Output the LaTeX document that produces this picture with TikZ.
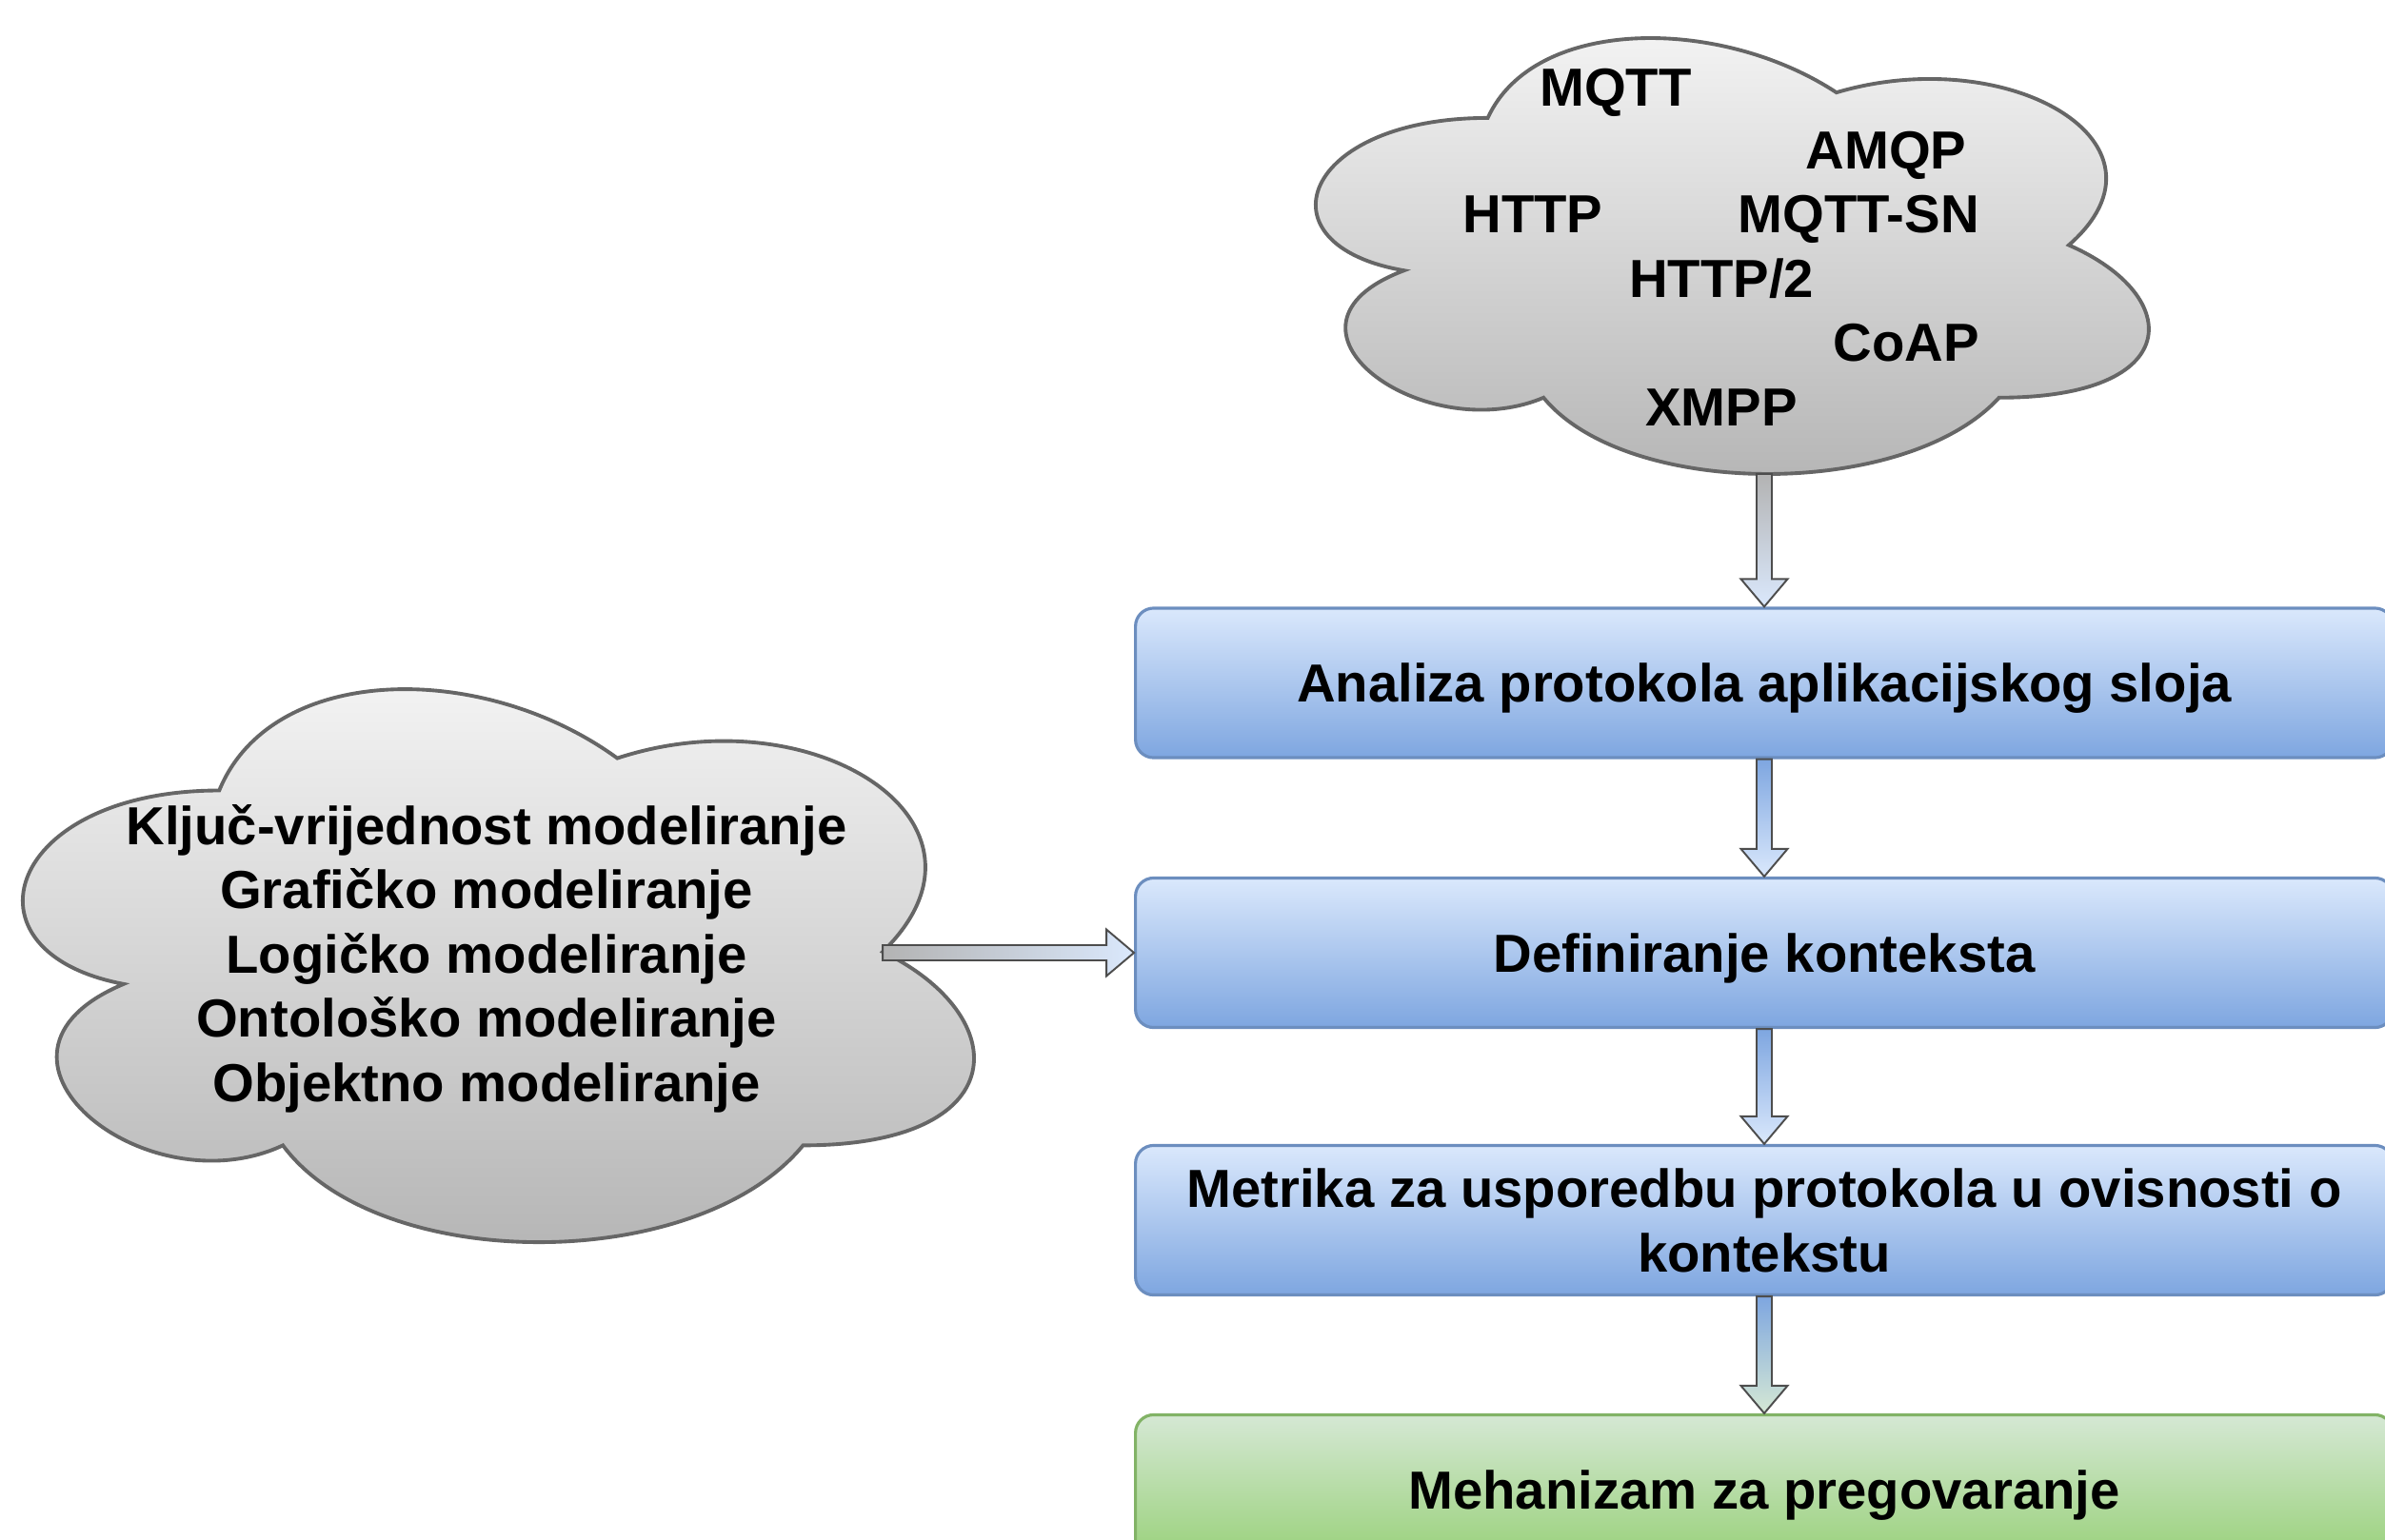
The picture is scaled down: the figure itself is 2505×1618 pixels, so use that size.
\documentclass[tikz,border=0pt]{standalone}
\usepackage{fontspec}
\setmainfont{Liberation Sans}
\usetikzlibrary{calc}
\definecolor{bluetop}{HTML}{DAE8FC}
\definecolor{bluebot}{HTML}{7EA6E0}
\definecolor{blueline}{HTML}{6C8EBF}
\definecolor{greentop}{HTML}{D5E8D4}
\definecolor{greenbot}{HTML}{97D077}
\definecolor{greenline}{HTML}{82B366}
\definecolor{cloudtop}{HTML}{F5F5F5}
\definecolor{cloudbot}{HTML}{B3B3B3}
\definecolor{cloudline}{HTML}{666666}
\definecolor{arrowline}{HTML}{4D4D4D}
\tikzset{
  lbl/.style={font=\fontsize{16}{19.2}\selectfont\bfseries, inner sep=0pt, align=center},
  stepbox/.style={rectangle, rounded corners=0.19cm, minimum width=13.2cm, minimum height=1.57cm, line width=0.9pt, text depth=0pt, lbl},
  bluebox/.style={stepbox, draw=blueline, top color=bluetop, bottom color=bluebot},
  greenbox/.style={stepbox, draw=greenline, top color=greentop, bottom color=greenbot},
  cloudshape/.style={draw=cloudline, line width=1.1pt, top color=cloudtop, bottom color=cloudbot},
  flex/.style={draw=arrowline, line width=0.55pt, line join=miter},
}
\newcommand\flexdown[4]{%
  \path[flex, top color=#3, bottom color=#4]
    ($(#1)+(-8,0)$) -- ($(#2)+(-8,-29)$) -- ($(#2)+(-24.5,-29)$) -- (#2)
    -- ($(#2)+(24.5,-29)$) -- ($(#2)+(8,-29)$) -- ($(#1)+(8,0)$) -- cycle;}
\newcommand\flexright[4]{%
  \path[flex, left color=#3, right color=#4]
    ($(#1)+(0,-8)$) -- ($(#2)+(-29,-8)$) -- ($(#2)+(-29,-24.5)$) -- (#2)
    -- ($(#2)+(-29,24.5)$) -- ($(#2)+(-29,8)$) -- ($(#1)+(0,8)$) -- cycle;}
\newcommand\cloudoutline{%
  (0.25,0.25) .. controls (0.05,0.25) and (0,0.5) .. (0.16,0.55)
  .. controls (0,0.66) and (0.18,0.9) .. (0.31,0.8)
  .. controls (0.4,1) and (0.7,1) .. (0.8,0.8)
  .. controls (1,0.8) and (1,0.6) .. (0.875,0.5)
  .. controls (1,0.3) and (0.81,0.1) .. (0.625,0.2)
  .. controls (0.5,0.05) and (0.3,0.05) .. (0.25,0.25) -- cycle}
\begin{document}
\begin{tikzpicture}[x=0.01cm, y=-0.01cm]
\useasboundingbox (0,0) rectangle (2505,1618);
\clip (0,0) rectangle (2505,1618);
% top cloud
\begin{scope}[shift={(1318.5,-9.7)}, xscale=976.5, yscale=534.4]
  \path[cloudshape] \cloudoutline;
  \coordinate (topcloudbot) at (0.5513,0.95);
\end{scope}
% left cloud
\begin{scope}[shift={(-48.5,661)}, xscale=1115, yscale=678]
  \path[cloudshape] \cloudoutline;
  \coordinate (leftcloudind) at (0.875,0.5);
\end{scope}
% cloud texts
\node[lbl, anchor=base] (mqtt) at (1697,111) {MQTT};
\node[lbl, anchor=base] (amqp) at (1981,177) {AMQP};
\node[lbl, anchor=base] (http) at (1610,244) {HTTP};
\node[lbl, anchor=base] (mqttsn) at (1952,244) {MQTT-SN};
\node[lbl, anchor=base] (http2) at (1808,312) {HTTP/2};
\node[lbl, anchor=base] (coap) at (2002,379) {CoAP};
\node[lbl, anchor=base] (xmpp) at (1808,447) {XMPP};
\node[lbl] (modeli) at (511,1007) {Ključ-vrijednost modeliranje\\Grafičko modeliranje\\Logičko modeliranje\\Ontološko modeliranje\\Objektno modeliranje};
% boxes
\node[bluebox] (analiza) at (1853,717.5) {Analiza protokola aplikacijskog sloja};
\node[bluebox] (kontekst) at (1853,1001) {Definiranje konteksta};
\node[bluebox] (metrika) at (1853,1282) {Metrika za usporedbu protokola u ovisnosti o\\kontekstu};
\node[greenbox] (mehanizam) at (1853,1565) {Mehanizam za pregovaranje};
% arrows
\coordinate (topstart) at (analiza.north |- topcloudbot);
\coordinate (leftstart) at (leftcloudind |- kontekst.west);
\flexdown{topstart}{analiza.north}{cloudbot}{bluetop}
\flexdown{analiza.south}{kontekst.north}{bluebot}{bluetop}
\flexdown{kontekst.south}{metrika.north}{bluebot}{bluetop}
\flexdown{metrika.south}{mehanizam.north}{bluebot}{greentop}
\flexright{leftstart}{kontekst.west}{cloudbot}{bluetop}
\end{tikzpicture}
\end{document}
